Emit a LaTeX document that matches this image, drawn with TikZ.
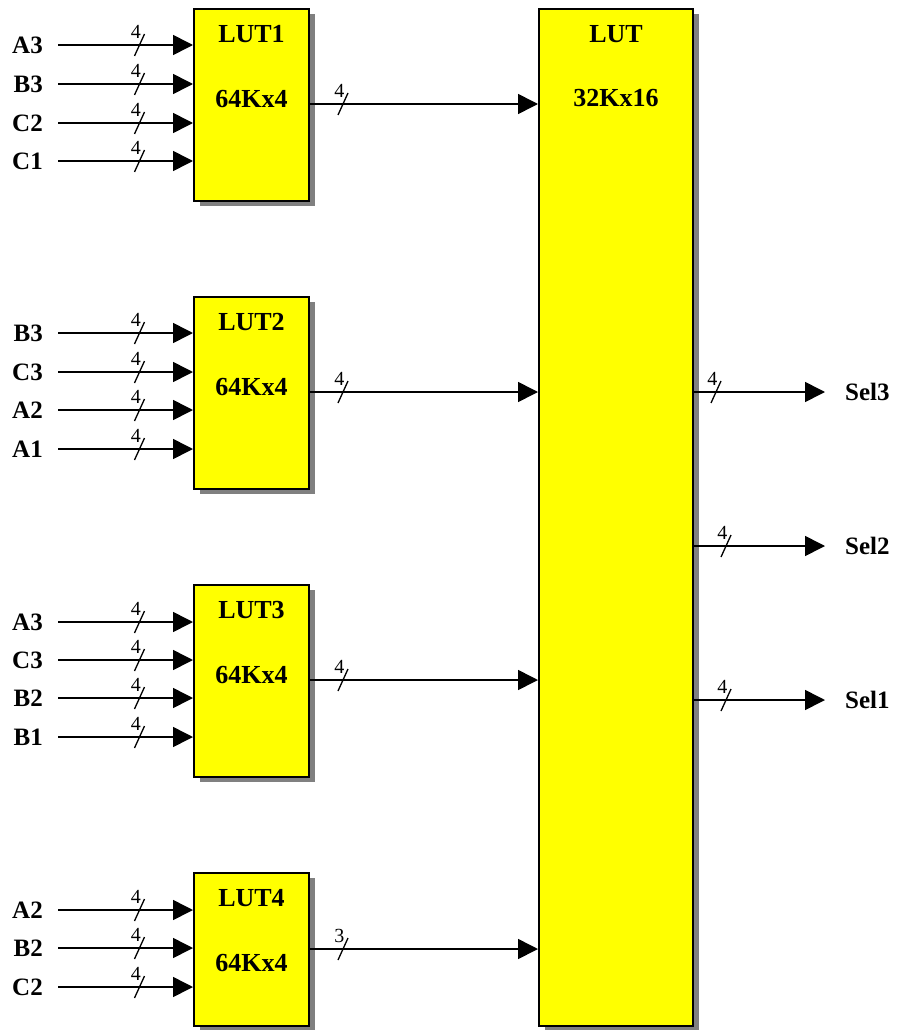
\documentclass[tikz,border=0pt]{standalone}
\usepackage{fontspec}
\setmainfont{Liberation Serif}
\usetikzlibrary{arrows.meta,shadows,positioning,calc}
\definecolor{lutyellow}{RGB}{255,255,0}
\definecolor{shade}{RGB}{128,128,128}

\newcommand{\buscut}[3]{%
  \draw[line width=1.3pt] ($(#1)+(#2,0)+(5,-11)$) -- ($(#1)+(#2,0)+(-5,11)$);
  \node[buswd, anchor=south east] (w#1) at ($(#1)+(#2,0)+(1.5,-6)$) {#3};}

\begin{document}
\begin{tikzpicture}[x=1pt, y=-1pt, >={Triangle[length=20pt,width=20pt]},
  lutbox/.style={draw, line width=2pt, fill=lutyellow, anchor=north west, inner sep=0pt,
    minimum width=115pt, drop shadow={shadow xshift=6pt, shadow yshift=-5pt, fill=shade, opacity=1}},
  boxtxt/.style={font=\fontsize{26}{26}\selectfont\bfseries, inner sep=0pt},
  sig/.style={font=\fontsize{25}{25}\selectfont\bfseries, inner sep=0pt},
  buswd/.style={font=\fontsize{20}{20}\selectfont, inner sep=0pt},
  bus/.style={line width=1.6pt, ->}]
  \useasboundingbox (0,0) rectangle (898,1030);

  % the four small tables
  \foreach \b/\top/\hgt in {1/8/192, 2/296/192, 3/584/192, 4/872/153} {
    \node[lutbox, minimum height=\hgt pt] (lut\b) at (193,\top) {};
    \node[boxtxt] (lut\b n) at ($(lut\b.north)+(0,26)$) {LUT\b};
    \node[boxtxt] (lut\b s) at ($(lut\b.north)+(0,91)$) {64Kx4};
  }

  % the big one
  \node[lutbox, minimum width=154pt, minimum height=1017pt] (main) at (538,8) {};
  \node[boxtxt] (mainn) at ($(main.north)+(0,26)$) {LUT};
  \node[boxtxt] (mains) at ($(main.north)+(0,90)$) {32Kx16};

  % inputs
  \foreach \b/\list in {1/{A3/45,B3/84,C2/123,C1/161}, 2/{B3/333,C3/372,A2/410,A1/449},
                        3/{A3/622,C3/660,B2/698,B1/737}, 4/{A2/910,B2/948,C2/987}} {
    \foreach \s/\y [count=\k] in \list {
      \coordinate (in\b\k) at (58,\y);
      \node[sig, left=15pt of in\b\k] (lab\b\k) {\s};
      \draw[bus] (in\b\k) -- (in\b\k -| lut\b.west);
      \buscut{in\b\k}{81.5}{4}
    }
  }

  % small tables into the big one
  \foreach \b/\y/\n in {1/104/4, 2/392/4, 3/680/4, 4/949/3} {
    \coordinate (y\b) at (0,\y);
    \coordinate (o\b) at (lut\b.east |- y\b);
    \draw[bus] (o\b) -- (o\b -| main.west);
    \buscut{o\b}{33}{\n}
  }

  % outputs
  \foreach \s/\y/\c in {Sel3/392/22, Sel2/546/32, Sel1/700/32} {
    \coordinate (y\s) at (0,\y);
    \coordinate (o\s) at (main.east |- y\s);
    \node[sig, anchor=west] (\s) at (845,\y) {\s};
    \draw[bus] (o\s) -- ([xshift=-20pt]\s.west);
    \buscut{o\s}{\c}{4}
  }
\end{tikzpicture}
\end{document}
